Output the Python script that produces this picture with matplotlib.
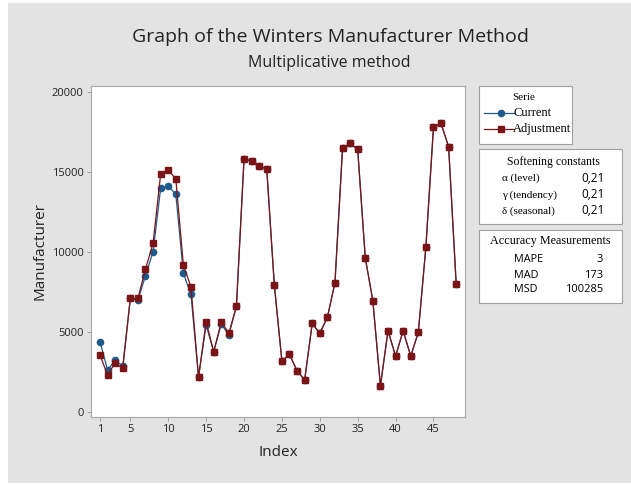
import matplotlib
matplotlib.use("Agg")
import matplotlib.pyplot as plt
from matplotlib.patches import Rectangle
from matplotlib.lines import Line2D

# series
index = list(range(1, 49))
current = [4375, 2600, 3230, 2850, 7080, 6980, 8500, 10000, 13960, 14100,
           13600, 8650, 7330, 2190, 5420, 3750, 5480, 4790, 6600, 15770,
           15690, 15350, 15170, 7920, 3170, 3580, 2560, 1980, 5520, 4900,
           5900, 8060, 16460, 16770, 16400, 9620, 6940, 1620, 5060, 3480,
           5060, 3480, 4960, 10310, 17770, 18020, 16560, 7960]
adjustment = [3540, 2290, 3060, 2710, 7080, 7080, 8920, 10520, 14850, 15100,
              14560, 9150, 7810, 2150, 5620, 3750, 5620, 4900, 6600, 15770,
              15690, 15350, 15170, 7920, 3170, 3580, 2560, 1980, 5520, 4900,
              5900, 8060, 16460, 16770, 16400, 9620, 6940, 1620, 5060, 3480,
              5060, 3480, 4960, 10310, 17770, 18020, 16560, 7960]

x_ticks = [1, 5, 10, 15, 20, 25, 30, 35, 40, 45]
y_ticks = [0, 5000, 10000, 15000, 20000]

smoothing_names = ["\u03b1 (level)", "\u03b3 (tendency)", "\u03b4 (seasonal)"]
smoothing_values = ["0,21", "0,21", "0,21"]
accuracy_names = ["MAPE", "MAD", "MSD"]
accuracy_values = ["3", "173", "100285"]

BLUE = "#1f5a8c"
RED = "#7b1416"
BG = "#e3e3e3"
SANS = "Open Sans"
SERIF = "Liberation Serif"

W, H = 631, 484
fig = plt.figure(figsize=(W / 100, H / 100), dpi=100)
fig.patch.set_facecolor("white")


def px(x, y):
    return x / W, 1 - y / H


# gray panel behind everything
fig.patches.append(Rectangle(px(8, 483), (W - 8) / W, 480 / H,
                             transform=fig.transFigure, facecolor=BG,
                             edgecolor="none", zorder=-10))

ax = fig.add_axes([90.7 / W, 1 - 417 / H, (465.3 - 90.7) / W, (417 - 86) / H])
ax.set_facecolor("white")
ax.plot(index, current, color=BLUE, lw=0.9, marker="o", ms=4.5,
        markerfacecolor=BLUE, markeredgecolor=BLUE)
ax.plot(index, adjustment, color=RED, lw=0.9, marker="s", ms=5,
        markerfacecolor=RED, markeredgecolor=RED)
ax.set_xlim(-0.23, 49.2)
ax.set_ylim(-330, 20360)
ax.set_xticks(x_ticks)
ax.set_yticks(y_ticks)
ax.tick_params(length=3, width=0.6, color="#999999", labelsize=8,
               labelcolor="#222222", pad=2)
for lab in ax.get_xticklabels() + ax.get_yticklabels():
    lab.set_family(SANS)
for s in ax.spines.values():
    s.set_color("#a8a8a8")
    s.set_linewidth(0.8)

# titles and axis labels
fig.text(*px(330, 37), "Graph of the Winters Manufacturer Method", ha="center",
         va="center", fontsize=14, family=SANS, color="#222222")
fig.text(*px(329, 63), "Multiplicative method", ha="center", va="center",
         fontsize=11.5, family=SANS, color="#222222")
fig.text(*px(278, 452), "Index", ha="center", va="center", fontsize=11,
         family=SANS, color="#222222")
fig.text(*px(40, 251), "Manufacturer", ha="center", va="center", fontsize=11,
         family=SANS, color="#222222", rotation=90)


def box(x0, y0, x1, y1):
    fig.patches.append(Rectangle(px(x0, y1), (x1 - x0) / W, (y1 - y0) / H,
                                 transform=fig.transFigure, facecolor="white",
                                 edgecolor="#a0a0a0", lw=0.8))


# series legend
box(479, 86, 572, 144)
fig.text(*px(524, 98), "Serie", ha="center", va="center", fontsize=8,
         family=SERIF)
for yy, col, mk, name in [(113, BLUE, "o", "Current"), (129, RED, "s", "Adjustment")]:
    fx0, fy = px(484, yy)
    fx1, _ = px(514, yy)
    fig.add_artist(Line2D([fx0, fx1], [fy, fy], transform=fig.transFigure,
                          color=col, lw=0.9))
    fig.add_artist(Line2D([px(501, yy)[0]], [fy], transform=fig.transFigure,
                          marker=mk, ms=4.5 if mk == "o" else 5, color=col))
    fig.text(*px(513, yy), name, ha="left", va="center", fontsize=9,
             family=SERIF)

# smoothing constants
box(479, 149, 622, 224)
fig.text(*px(553, 162), "Softening constants", ha="center", va="center",
         fontsize=8.5, family=SERIF)
for yy, name, val in zip([178, 195, 211], smoothing_names, smoothing_values):
    fig.text(*px(502, yy), name, ha="left", va="center", fontsize=8,
             family=[SERIF, "DejaVu Serif"])
    fig.text(*px(605, yy), val, ha="right", va="center", fontsize=8.5,
             family=SANS)

# accuracy measures
box(479, 230, 622, 303)
fig.text(*px(550, 241), "Accuracy Measurements", ha="center", va="center",
         fontsize=8.7, family=SERIF)
for yy, name, val in zip([260, 275, 290], accuracy_names, accuracy_values):
    fig.text(*px(514, yy), name, ha="left", va="center", fontsize=7.8,
             family=SANS)
    fig.text(*px(603, yy), val, ha="right", va="center", fontsize=8,
             family=SANS)

fig.savefig("out.png", dpi=100)
